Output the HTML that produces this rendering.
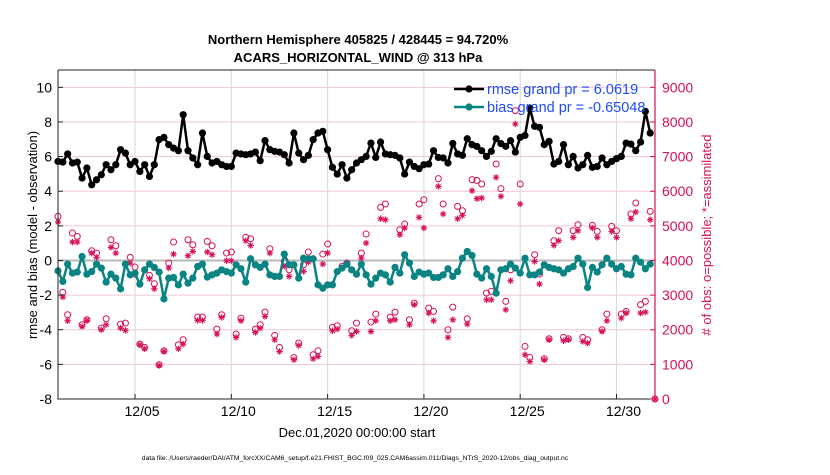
<!DOCTYPE html>
<html><head><meta charset="utf-8"><style>
html,body{margin:0;padding:0;background:#fff;}
svg text{font-family:"Liberation Sans",Arial,sans-serif;}
</style></head><body>
<svg id="chart" width="830" height="470" xmlns="http://www.w3.org/2000/svg">
<text x="358" y="44" text-anchor="middle" font-size="13" font-weight="bold">Northern Hemisphere 405825 / 428445 = 94.720%</text>
<text x="358" y="62" text-anchor="middle" font-size="13" font-weight="bold">ACARS_HORIZONTAL_WIND @ 313 hPa</text>
<text transform="translate(37,235) rotate(-90)" text-anchor="middle" font-size="13">rmse and bias (model - observation)</text>
<text transform="translate(711,235) rotate(-90)" text-anchor="middle" font-size="13" fill="#d6105a"># of obs: o=possible; *=assimilated</text>
<text x="357" y="437" text-anchor="middle" font-size="13">Dec.01,2020 00:00:00 start</text>
<text x="355" y="460" text-anchor="middle" font-size="6.8">data file: /Users/raeder/DAI/ATM_forcXX/CAM6_setup/f.e21.FHIST_BGC.f09_025.CAM6assim.011/Diags_NTrS_2020-12/obs_diag_output.nc</text>
<g id="plot"></g>
</svg>
<script>
const rmse=[5.72,5.68,6.15,5.63,5.68,4.76,5.34,4.37,4.66,4.95,5.53,5.24,5.53,6.40,6.2,5.53,5.72,5.14,5.53,4.85,5.53,6.98,7.11,6.69,6.49,6.34,8.42,6.34,5.92,5.53,7.36,6.01,5.63,
5.72,5.53,5.43,5.43,6.2,6.15,6.11,6.15,6.26,5.76,6.92,6.4,6.3,6.26,6.11,5.63,7.36,6.2,5.82,6.07,6.98,7.36,7.46,6.4,5.38,4.99,5.53,4.76,5.24,5.63,5.82,
6.01,6.78,5.95,6.84,6.15,6.11,6.07,5.92,4.99,5.68,5.43,5.3,5.53,5.57,6.34,5.95,5.92,5.63,6.76,6.15,6.07,7.03,6.69,6.59,6.34,6.01,6.3,7.03,6.75,6.59,6.92,6.26,
7.11,7.22,8.8,7.75,7.69,6.69,6.88,5.57,5.72,6.69,5.53,6.01,5.34,5.53,6.07,5.38,5.43,5.92,5.53,5.72,5.88,6.01,6.78,6.72,6.34,6.84,8.61,7.36,null];
const bias=[-0.6,-1.21,-0.21,-0.73,-0.67,0.23,-0.79,-0.64,-0.21,-0.44,-1.25,-0.79,-1.02,-1.64,-0.21,-0.83,-0.73,-1.37,-0.54,-0.21,-0.4,-0.67,-2.22,-1.02,-0.98,-1.41,-0.79,-1.31,-1.02,-0.35,-0.21,-0.96,-0.83,
-0.73,-0.54,-0.64,-0.73,-0.25,-0.48,-1.25,0.1,-0.25,-0.4,-0.21,-0.83,-0.92,-0.92,0.37,-0.25,-0.25,-1.02,0.13,0.1,0.1,-1.41,-1.6,-1.41,-1.41,-0.64,-0.44,-0.21,-0.54,-0.79,-0.21,
-0.83,-1.37,-1.02,-0.73,-0.83,-1.25,-0.4,-0.73,0.33,-0.15,-0.92,-0.67,-0.79,-0.73,-0.98,-0.98,-0.83,-0.48,-0.92,-0.64,0.13,0.52,0.29,-0.79,-1.02,-0.48,-0.92,-1.89,-0.54,-0.48,-0.21,-0.44,
-0.73,0.13,-0.83,-0.83,-0.67,-0.25,-0.4,-0.48,-0.54,-0.73,-0.48,-0.35,0.13,-0.21,-1.56,-0.4,-0.67,-0.25,0.13,-0.21,-0.48,-0.35,-0.79,-0.83,0.13,-0.1,-0.48,-0.21,null];
const obsPossible=[5273,3078,2433,4792,4696,2144,2288,4281,4214,2048,2317,4599,4426,2163,2192,4089,3810,1585,1489,3569,3328,988,1392,3925,4532,1566,1710,4599,4455,2365,2365,4551,4426,
2018,2433,4214,4243,1874,2336,4667,4628,2018,2144,2509,4339,1836,1489,3973,3733,1200,1614,3877,4243,1277,1392,4185,4474,2067,2115,3829,3925,1970,2192,4214,
4763,2221,2452,5533,5630,2365,2509,4888,5052,2288,2769,5630,5755,2625,2529,6362,5630,1999,2654,5562,5437,2317,6333,6313,6208,3058,3106,6785,6073,2818,3733,8326,
6207,1518,1200,4166,3607,1161,1739,4570,4859,1778,1739,4859,5033,1778,1710,5013,4840,1999,2452,4984,4859,2452,2529,5341,5659,2722,2818,5418,0];
const obsAssim=[5110,2943,2259,4532,4532,2095,2269,4214,4089,2000,2144,4378,4214,2048,1980,3925,3588,1566,1450,3473,3184,969,1373,3781,4185,1450,1585,4137,4262,2269,2269,4243,4166,
1874,2356,3993,3993,1778,2259,4570,4436,1922,2048,2384,4214,1710,1373,3829,3540,1133,1546,3685,3954,1161,1229,3896,4214,1970,2018,3781,3877,1836,1951,4069,
4503,1951,2259,5206,5177,2259,2288,4744,4936,2144,2722,5245,4936,2481,2259,6140,5341,1778,2288,5206,5302,2163,6015,5784,5803,2866,2866,6400,5851,2577,3415,7941,
5630,1277,1084,3973,3318,1133,1710,4436,4570,1681,1710,4667,4859,1662,1614,4936,4667,1951,2259,4840,4667,2336,2481,5206,5398,2481,2509,5177,0];
const leftTicks=[-8,-6,-4,-2,0,2,4,6,8,10];
const rightTicks=[0,1000,2000,3000,4000,5000,6000,7000,8000,9000];
const xTickDays=[4,9,14,19,24,29];
const xTickLabels=["12/05","12/10","12/15","12/20","12/25","12/30"];

const L=58,R=655,T=70,B=399;
const xMin=0,xMax=31,yMin=-8,yMax=11,nMax=9500;
const xs=d=>L+(d-xMin)/(xMax-xMin)*(R-L);
const ys=v=>B-(v-yMin)/(yMax-yMin)*(B-T);
const yn=n=>B-n/nMax*(B-T);
const NS="http://www.w3.org/2000/svg";
const g=document.getElementById('plot');
function mk(tag,attrs,parent){const e=document.createElementNS(NS,tag);for(const k in attrs)e.setAttribute(k,attrs[k]);(parent||g).appendChild(e);return e;}

leftTicks.forEach(v=>{const e=mk('line',{x1:L,x2:R,y1:ys(v),y2:ys(v),stroke:'#f2c6d6','stroke-width':1});

});
xTickDays.forEach(d=>{const e=mk('line',{x1:xs(d),x2:xs(d),y1:T,y2:B,stroke:'#d8d8d8','stroke-width':1});

});
const zl=mk('line',{x1:L,x2:R,y1:ys(0),y2:ys(0),stroke:'#b8b8b8','stroke-width':2});



const red='#d6105a';
obsPossible.forEach((n,i)=>{const c=mk('circle',{cx:xs(i*0.25),cy:yn(n),r:3,fill:'none',stroke:red,'stroke-width':1});

});
obsAssim.forEach((n,i)=>{const x=xs(i*0.25),y=yn(n),s=3.2;const gg=mk('g',{stroke:red,'stroke-width':1.1});


mk('line',{x1:x-s,x2:x+s,y1:y,y2:y},gg);mk('line',{x1:x,x2:x,y1:y-s,y2:y+s},gg);
mk('line',{x1:x-s*0.7,x2:x+s*0.7,y1:y-s*0.7,y2:y+s*0.7},gg);mk('line',{x1:x-s*0.7,x2:x+s*0.7,y1:y+s*0.7,y2:y-s*0.7},gg);});

function series(arr,color,name,lw){let d='';arr.forEach((v,i)=>{if(v===null)return;d+=(d?'L':'M')+xs(i*0.25).toFixed(1)+','+ys(v).toFixed(1);});
const p=mk('path',{d:d,fill:'none',stroke:color,'stroke-width':lw,'stroke-linejoin':'round'});


arr.forEach((v,i)=>{if(v===null)return;const c=mk('circle',{cx:xs(i*0.25),cy:ys(v),r:3.6,fill:color});

});}
series(bias,'#0a8383','bias',2.5);
series(rmse,'#000000','rmse',2.5);

const fr=mk('path',{d:`M${L},${T}H${R}M${L},${T}V${B}H${R}`,fill:'none',stroke:'#222','stroke-width':1});


const ra=mk('line',{x1:R,x2:R,y1:T,y2:B,stroke:red,'stroke-width':1.2});


leftTicks.forEach(v=>{mk('line',{x1:L,x2:L+5,y1:ys(v),y2:ys(v),stroke:'#222'});
const t=mk('text',{x:L-6,y:ys(v)+5,'text-anchor':'end','font-size':14});t.textContent=v;

});
rightTicks.forEach(n=>{mk('line',{x1:R-5,x2:R,y1:yn(n),y2:yn(n),stroke:red});
const t=mk('text',{x:R+7,y:yn(n)+5,'font-size':14,fill:red});t.textContent=n;

});
xTickDays.forEach((d,i)=>{mk('line',{x1:xs(d),x2:xs(d),y1:B,y2:B-5,stroke:'#222'});
const t=mk('text',{x:xs(d)+7,y:B+17,'text-anchor':'middle','font-size':14});t.textContent=xTickLabels[i];

});

[['rmse grand pr = 6.0619','#000',89],['bias grand pr = -0.65048','#0a8383',107]].forEach(([txt,col,y])=>{
const lg=mk('g',{});


mk('line',{x1:454,x2:484,y1:y,y2:y,stroke:col,'stroke-width':2.5},lg);
mk('circle',{cx:469,cy:y,r:3.6,fill:col},lg);
const t=mk('text',{x:487,y:y+5,'font-size':14.5,fill:'#1f4cf5'},lg);t.textContent=txt;});
</script>
</body></html>
